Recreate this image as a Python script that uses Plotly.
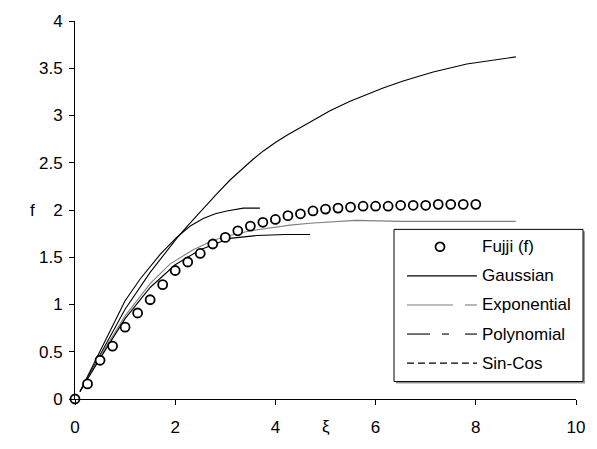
import plotly.graph_objects as go

# ---- data ----
xi_fujji = [0, 0.25, 0.5, 0.75, 1.0, 1.25, 1.5, 1.75, 2.0, 2.25, 2.5, 2.75, 3.0, 3.25,
            3.5, 3.75, 4.0, 4.25, 4.5, 4.75, 5.0, 5.25, 5.5, 5.75, 6.0, 6.25, 6.5,
            6.75, 7.0, 7.25, 7.5, 7.75, 8.0]
f_fujji = [0, 0.16, 0.41, 0.56, 0.76, 0.91, 1.05, 1.21, 1.36, 1.45, 1.54, 1.64, 1.71, 1.78,
           1.83, 1.87, 1.90, 1.94, 1.96, 1.99, 2.01, 2.02, 2.03, 2.04, 2.04, 2.04, 2.05,
           2.05, 2.05, 2.06, 2.06, 2.06, 2.06]

xi_gauss = [0.1, 0.5, 1.0, 1.5, 2.03, 2.26, 2.55, 2.83, 3.1, 3.36, 3.56, 3.76, 4.0, 4.23,
            4.82, 5.09, 5.49, 6.15, 6.55, 7.15, 7.82, 8.8]
f_gauss = [0.08, 0.47, 0.95, 1.34, 1.70, 1.84, 2.01, 2.17, 2.32, 2.45, 2.54, 2.625, 2.715,
           2.79, 2.97, 3.05, 3.15, 3.29, 3.365, 3.46, 3.545, 3.62]

xi_expo = [0.1, 0.5, 1.0, 1.5, 1.9, 2.36, 2.76, 3.09, 3.5, 3.76, 4.29, 4.69, 5.2, 5.6,
           6.5, 7.5, 8.8]
f_expo = [0.08, 0.45, 0.88, 1.22, 1.43, 1.58, 1.68, 1.73, 1.78, 1.80, 1.84, 1.86, 1.88,
          1.89, 1.88, 1.88, 1.88]

xi_poly = [0.1, 0.5, 1.0, 1.3, 1.7, 2.03, 2.3, 2.56, 2.8, 3.03, 3.36, 3.69]
f_poly = [0.08, 0.50, 1.04, 1.27, 1.53, 1.71, 1.83, 1.91, 1.96, 1.99, 2.02, 2.02]

xi_sincos = [0.1, 0.5, 1.0, 1.5, 2.0, 2.5, 3.09, 3.63, 4.2, 4.69]
f_sincos = [0.08, 0.43, 0.85, 1.18, 1.42, 1.58, 1.70, 1.73, 1.74, 1.74]

legend_names = ["Fujji (f)", "Gaussian", "Exponential", "Polynomial", "Sin-Cos"]

x_ticks = [0, 2, 4, 6, 8, 10]
y_ticks = [0, 0.5, 1, 1.5, 2, 2.5, 3, 3.5, 4]

FONT = "Liberation Sans, Arial, sans-serif"
GRAY = "#7f7f7f"

fig = go.Figure()
line_series = [
    (xi_gauss, f_gauss, "black"),
    (xi_expo, f_expo, GRAY),
    (xi_poly, f_poly, "black"),
    (xi_sincos, f_sincos, "black"),
]
for (xs, ys, col), name in zip(line_series, legend_names[1:]):
    fig.add_trace(go.Scatter(x=xs, y=ys, mode="lines", name=name, showlegend=False,
                             line=dict(color=col, width=1.1), cliponaxis=False))

fig.add_trace(go.Scatter(x=xi_fujji, y=f_fujji, mode="markers", name=legend_names[0],
                         showlegend=False, cliponaxis=False,
                         marker=dict(symbol="circle", size=9, color="white",
                                     line=dict(color="black", width=1.8))))

# ---- plot geometry (pixels) ----
W, H = 597, 449
L, R, T, B = 75, 21, 19, 40
PW, PH = W - L - R, H - T - B


def px(xp):
    return (xp - L) / PW


def py(yp):
    return (H - B - yp) / PH


shapes = []
# legend box with shadow
bx0, by0, bx1, by1 = 394, 234, 583, 391
shapes.append(dict(type="rect", xref="paper", yref="paper",
                   x0=px(bx0 + 2), x1=px(bx1 + 2), y0=py(by1 + 2), y1=py(by0 + 2),
                   line=dict(width=0), fillcolor="#9a9a9a", layer="above"))
shapes.append(dict(type="rect", xref="paper", yref="paper",
                   x0=px(bx0), x1=px(bx1), y0=py(by1), y1=py(by0),
                   line=dict(color="black", width=1), fillcolor="white", layer="above"))

rows = [252, 282, 312, 342, 372]
lx0, lx1 = 407, 477


def seg(x0, x1, y, color="black", dash="solid"):
    shapes.append(dict(type="line", xref="paper", yref="paper",
                       x0=px(x0), x1=px(x1), y0=py(y), y1=py(y),
                       line=dict(color=color, width=1.1, dash=dash), layer="above"))


# Gaussian
seg(lx0, lx1, rows[1])
# Exponential
seg(lx0, 453, rows[2], GRAY)
seg(465, lx1, rows[2], GRAY)
# Polynomial
seg(lx0, 430, rows[3])
seg(442, 449, rows[3])
seg(465, lx1, rows[3])
# Sin-Cos
seg(lx0, lx1, rows[4], dash="7px,4px")

# Fujji marker symbol in legend
r = 4.5
shapes.append(dict(type="circle", xref="paper", yref="paper",
                   x0=px(440 - r), x1=px(440 + r), y0=py(rows[0] + r), y1=py(rows[0] - r),
                   line=dict(color="black", width=1.8), fillcolor="white", layer="above"))

annotations = []
for name, yy in zip(legend_names, rows):
    annotations.append(dict(text=name, xref="paper", yref="paper", x=px(480), y=py(yy),
                            xanchor="left", yanchor="middle", showarrow=False,
                            font=dict(family=FONT, size=17, color="black")))

# axis titles
annotations.append(dict(text="ξ", xref="x", yref="paper", x=5, y=0, yshift=-27,
                        xanchor="center", yanchor="middle", showarrow=False,
                        font=dict(family=FONT, size=17, color="black")))
annotations.append(dict(text="f", xref="paper", yref="y", x=0, y=2, xshift=-43,
                        xanchor="center", yanchor="middle", showarrow=False,
                        font=dict(family=FONT, size=17, color="black")))

fig.update_layout(
    width=W, height=H,
    margin=dict(l=L, r=R, t=T, b=B, pad=0),
    paper_bgcolor="white", plot_bgcolor="white",
    showlegend=False,
    shapes=shapes, annotations=annotations,
    font=dict(family=FONT, size=17, color="black"),
    xaxis=dict(range=[0, 10], tickvals=x_ticks, ticks="outside", ticklen=5,
               tickcolor="black", showline=True, linecolor="black", linewidth=1,
               showgrid=False, zeroline=False, ticklabelstandoff=8,
               tickfont=dict(family=FONT, size=17, color="black")),
    yaxis=dict(range=[0, 4], tickvals=y_ticks, ticks="outside", ticklen=5,
               tickcolor="black", showline=True, linecolor="black", linewidth=1,
               showgrid=False, zeroline=False, ticklabelstandoff=3,
               tickfont=dict(family=FONT, size=17, color="black")),
)

fig.write_html("out.html")
